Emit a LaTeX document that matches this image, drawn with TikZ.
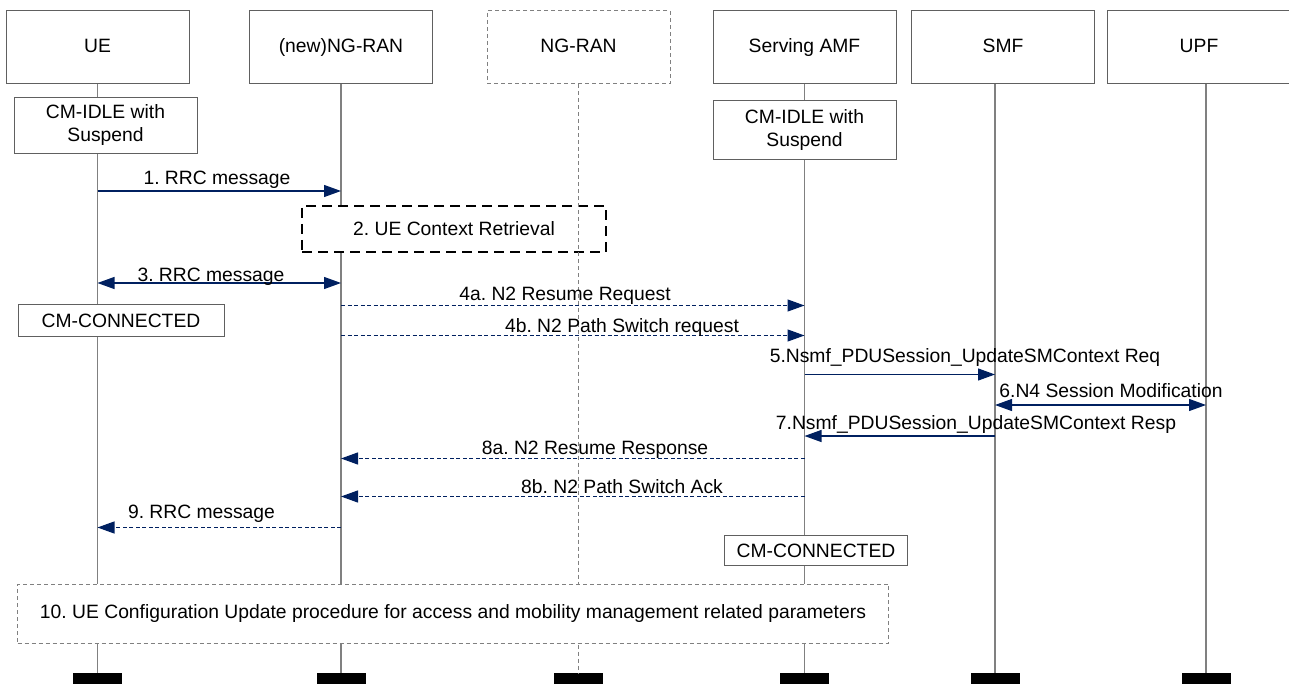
\documentclass[tikz,border=0pt]{standalone}
\usepackage{fontspec}
\setmainfont{Liberation Sans}
\usepackage{xcolor}
\usepackage{tikz}
\usetikzlibrary{arrows.meta}

\definecolor{msgblue}{RGB}{0,32,96}
\definecolor{linegray}{RGB}{128,128,128}
\definecolor{boxgray}{RGB}{96,96,96}

\begin{document}
\frenchspacing
\begin{tikzpicture}[x=1pt, y=-1pt, >={Triangle[length=17pt, width=12pt]},
    font=\fontsize{19.3}{23}\selectfont,
    head/.style={draw=boxgray, line width=1pt, fill=white, minimum width=183pt, minimum height=73pt,
        inner sep=0pt, text height=14pt, text depth=4pt},
    state/.style={draw=boxgray, line width=1pt, fill=white, align=center, inner sep=0pt},
    life/.style={draw=linegray, line width=1.2pt},
    bar/.style={fill=black, minimum width=49pt, minimum height=14pt, inner sep=0pt},
    msg/.style={draw=msgblue, line width=1.2pt},
    dmsg/.style={msg, dash pattern=on 4pt off 2.5pt},
    lab/.style={inner sep=0pt, text height=14pt, text depth=4pt},
    one/.style={->}, two/.style={<->}]

    \useasboundingbox (0,0) rectangle (1289,684);

    % Entities across the top
    \foreach \name/\x/\txt in {ue/97.5/UE, newran/341/(new)NG-RAN, amf/804.5/Serving AMF, smf/1003/SMF, upf/1199/UPF}
    {
        \node[head] (\name) at (\x,47.5) {\txt};
    }
    \node[head, draw=linegray, dash pattern=on 4pt off 3pt] (ngran) at (578.5,47.5) {NG-RAN};

    % Black blocks at the foot of each lifeline
    \foreach \name/\x in {ue/97.5, newran/341, ngran/578.5, amf/804.5, smf/995, upf/1206}
    {
        \node[bar] (\name-bar) at (\x,680) {};
    }

    % Lifelines
    \foreach \name in {ue, newran, amf, smf, upf}
    {
        \draw[life] (\name-bar |- \name.south) -- (\name-bar.north);
    }

    % Step 2, then the old NG-RAN lifeline over it
    \node[draw=black, line width=1.5pt, dash pattern=on 10pt off 6pt, fill=white,
        minimum width=304pt, minimum height=46pt] (ctx) at (454,229) {2. UE Context Retrieval};
    \draw[life, dash pattern=on 4pt off 3pt] (ngran-bar |- ngran.south) -- (ngran-bar.north);

    % Connection states
    \node[state, minimum width=183pt, minimum height=56pt] (ueidle) at (105.5,125.5) {CM-IDLE with\\Suspend};
    \node[state, minimum width=183pt, minimum height=59pt] (amfidle) at (804.5,130.5) {CM-IDLE with\\Suspend};
    \node[state, minimum width=206pt, minimum height=31pt] (ueconn) at (121,320.5) {CM-CONNECTED};
    \node[state, minimum width=183pt, minimum height=30pt] (amfconn) at (816,550.5) {CM-CONNECTED};

    % Step 10
    \node[draw=linegray, line width=1pt, dash pattern=on 4pt off 3pt, fill=white,
        minimum width=871pt, minimum height=59pt] (cfg) at (453,613.5)
        {10. UE Configuration Update procedure for access and mobility management related parameters};

    % Message rows
    \foreach \r/\y in {1/191, 3/283, 4a/305.5, 4b/335.5, 5/374.5, 6/405, 7/436, 8a/458.5, 8b/496.5, 9/527.5}
    {
        \coordinate (row\r) at (0,\y);
    }

    % Solid messages
    \foreach \a/\b/\r/\tip in {ue/newran/1/one, ue/newran/3/two, amf/smf/5/one, smf/upf/6/two, smf/amf/7/one}
    {
        \draw[msg, \tip] (\a-bar |- row\r) -- (\b-bar |- row\r);
    }

    % Dashed messages
    \foreach \a/\b/\r in {newran/amf/4a, newran/amf/4b, amf/newran/8a, amf/newran/8b, newran/ue/9}
    {
        \draw[dmsg, ->] (\a-bar |- row\r) -- (\b-bar |- row\r);
    }

    % Message labels
    \foreach \n/\x/\y/\txt in {
        1/217/180/1. RRC message,
        3/211/277/3. RRC message,
        4a/565/296/4a. N2 Resume Request,
        4b/622/327/4b. N2 Path Switch request,
        5/965/357/5.Nsmf\_PDUSession\_UpdateSMContext Req,
        6/1111/392/6.N4 Session Modification,
        7/976/424/7.Nsmf\_PDUSession\_UpdateSMContext Resp,
        8a/595/449/8a. N2 Resume Response,
        8b/622/488/8b. N2 Path Switch Ack,
        9/201.5/513/9. RRC message
    }
    {
        \node[lab] (lab\n) at (\x,\y) {\txt};
    }

\end{tikzpicture}
\end{document}
